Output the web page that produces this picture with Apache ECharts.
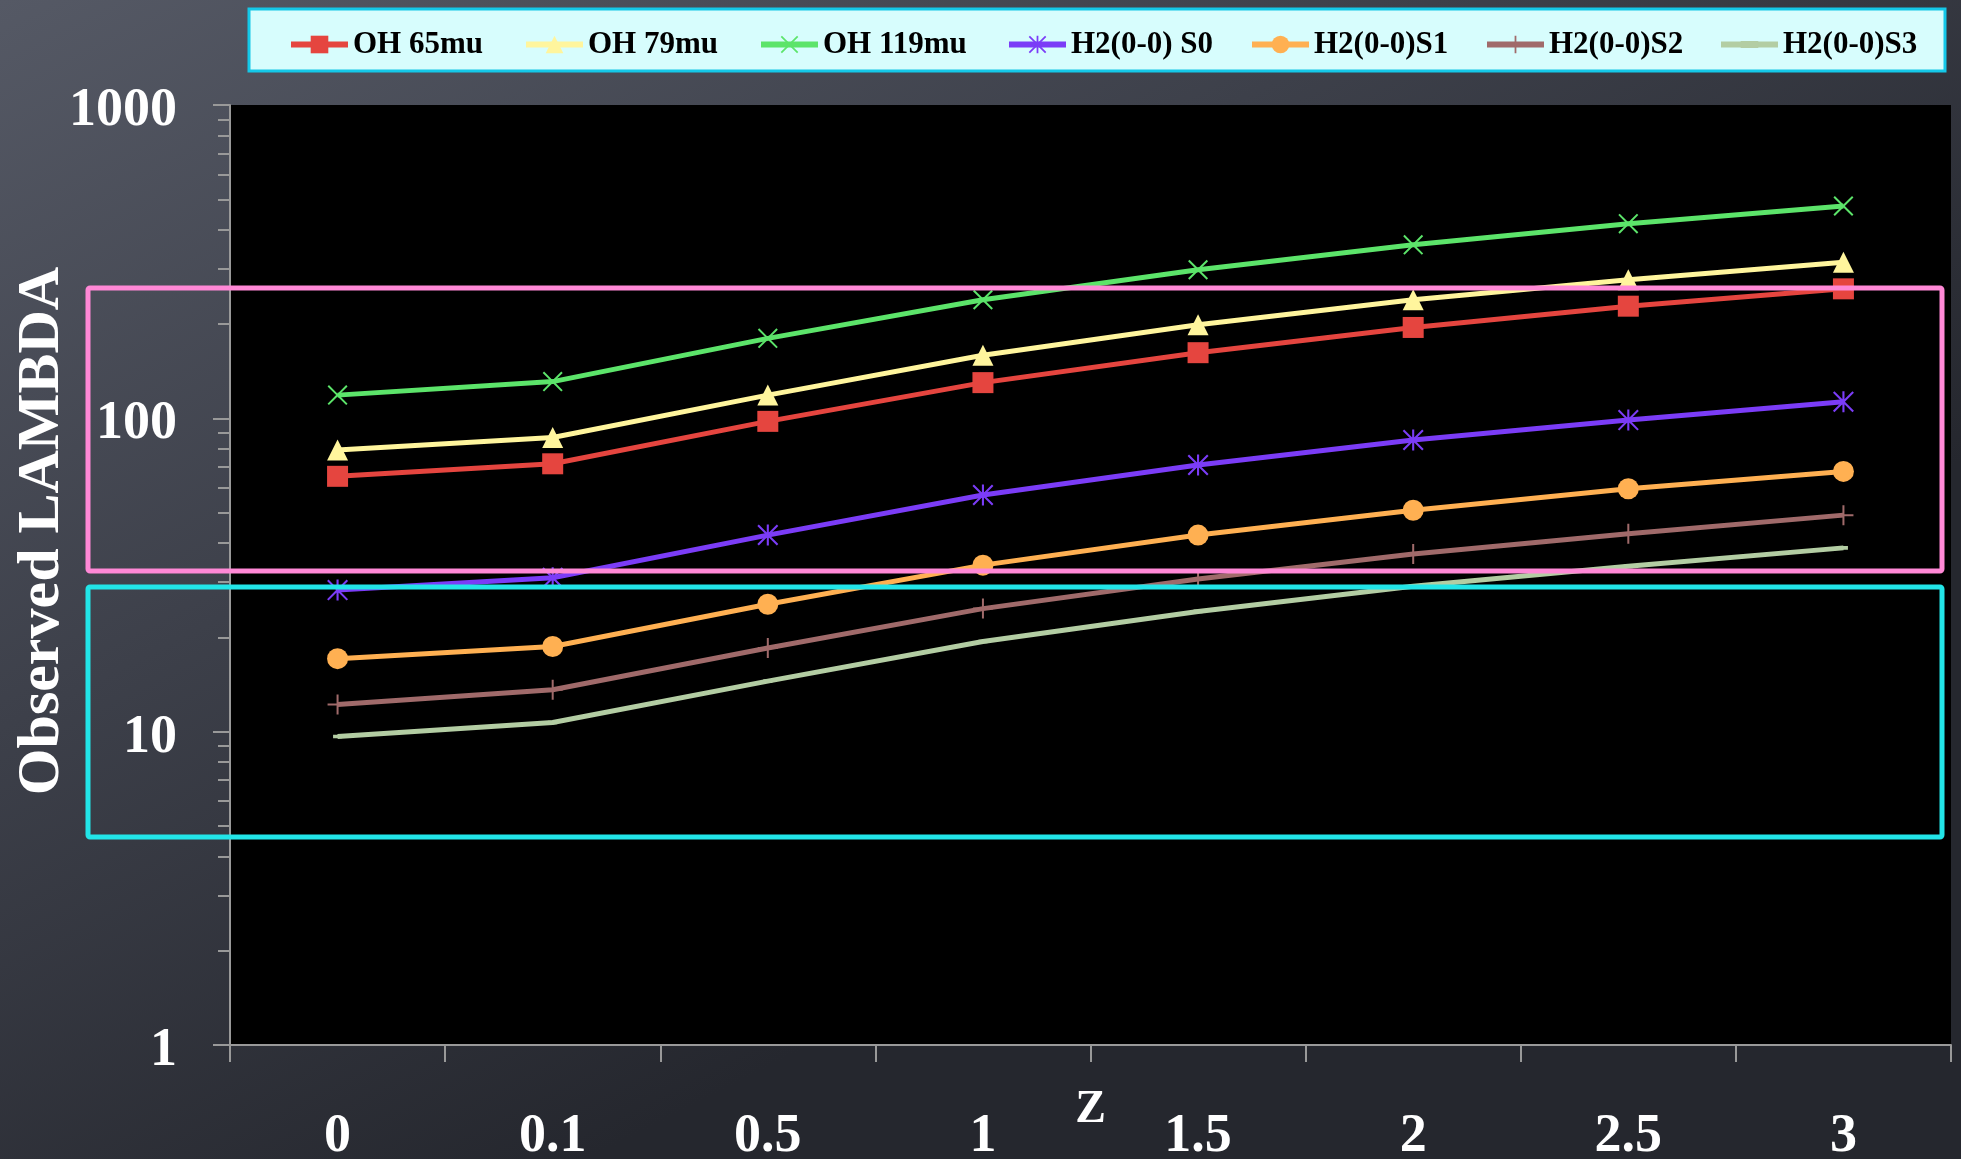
<!DOCTYPE html>
<html>
<head>
<meta charset="utf-8">
<script src="https://cdn.jsdelivr.net/npm/echarts@6/dist/echarts.min.js"></script>
<style>
html,body{margin:0;padding:0;background:#3a3d47;}
#chart{width:1961px;height:1159px;}
</style>
</head>
<body>
<div id="chart"></div>
<script>
// ---- data ----
const categories = ['0', '0.1', '0.5', '1', '1.5', '2', '2.5', '3'];
const seriesNames = ['OH 65mu', 'OH 79mu', 'OH 119mu', 'H2(0-0) S0', 'H2(0-0)S1', 'H2(0-0)S2', 'H2(0-0)S3'];
const oh65  = [65.3, 71.6, 97.8, 130, 162, 195, 228, 259];
const oh79  = [79.3, 86.9, 118.6, 159, 199, 239, 277, 315];
const oh119 = [118.6, 131, 180, 239, 298, 358, 418, 476];
const h2s0  = [28.3, 31.0, 42.4, 56.9, 71.0, 85.3, 98.7, 113];
const h2s1  = [17.1, 18.7, 25.5, 34.0, 42.4, 50.9, 59.6, 67.7];
const h2s2  = [12.2, 13.6, 18.5, 24.7, 30.7, 36.9, 42.8, 49.1];
const h2s3  = [9.65, 10.7, 14.5, 19.4, 24.2, 29.1, 33.7, 38.6];
const yMajorTicks = [1, 10, 100, 1000];
const yMinorTicks = [2,3,4,5,6,7,8,9,20,30,40,50,60,70,80,90,200,300,400,500,600,700,800,900];

// ---- styles ----
const FONT = "'Liberation Serif', 'DejaVu Serif', serif";
const colors = ['#e5453f', '#fff59d', '#5ce46a', '#7b3cf7', '#ffb052', '#a06a6a', '#b3cda3'];
const X_PATH = 'M0,0.7 L0.7,0 L5,4.3 L9.3,0 L10,0.7 L5.7,5 L10,9.3 L9.3,10 L5,5.7 L0.7,10 L0,9.3 L4.3,5 Z';
const symbols = [
  'rect',
  'triangle',
  'path://' + X_PATH,
  'path://' + X_PATH + ' M4.5,0 H5.5 V10 H4.5 Z',
  'circle',
  'path://M4.5,0 H5.5 V10 H4.5 Z M0,4.5 H10 V5.5 H0 Z',
  'path://M0,0 L0,10 Z M0,3 H10 V7 H0 Z'
];
const symbolSizes = [21, 21, 20, 21, 21, 20, 9];
const allData = [oh65, oh79, oh119, h2s0, h2s1, h2s2, h2s3];
const legendLefts = [288, 523, 758, 1006, 1249, 1484, 1718];

const series = seriesNames.map((name, i) => ({
  name: name,
  type: 'line',
  data: allData[i],
  symbol: symbols[i],
  symbolSize: symbolSizes[i],
  showAllSymbol: true,
  lineStyle: { color: colors[i], width: 5 },
  itemStyle: { color: colors[i], borderWidth: 0 },
  z: 3,
  emphasis: { disabled: true },
  animation: false
}));

const legends = seriesNames.map((name, i) => ({
  data: [name],
  left: legendLefts[i],
  top: 29,
  padding: 0,
  itemWidth: 57,
  itemHeight: 22,
  selectedMode: false,
  lineStyle: { width: 6 },
  textStyle: { fontFamily: FONT, fontWeight: 'bold', fontSize: 31, color: '#000', lineHeight: 22 },
  z: 10
}));

const chart = echarts.init(document.getElementById('chart'), null, { renderer: 'canvas' });
chart.setOption({
  animation: false,
  backgroundColor: {
    type: 'linear', x: 0, y: 0, x2: 0.3, y2: 1,
    colorStops: [
      { offset: 0, color: '#555965' },
      { offset: 0.5, color: '#3d404a' },
      { offset: 1, color: '#25272e' }
    ]
  },
  legend: legends,
  grid: {
    left: 230, right: 10, top: 105, bottom: 114,
    outerBoundsMode: 'none',
    containLabel: false,
    show: true, backgroundColor: '#000000', borderWidth: 0
  },
  xAxis: {
    type: 'category',
    data: categories,
    boundaryGap: true,
    name: 'Z',
    nameLocation: 'middle',
    nameGap: 42,
    nameMoveOverlap: false,
    nameTextStyle: { fontFamily: FONT, fontWeight: 'bold', fontSize: 46, color: '#fff' },
    axisLine: { show: true, lineStyle: { color: '#999', width: 2 } },
    axisTick: { show: true, length: 17, lineStyle: { color: '#999', width: 2 } },
    axisLabel: { margin: 65, fontFamily: FONT, fontWeight: 'bold', fontSize: 54, color: '#fff' },
    splitLine: { show: false }
  },
  yAxis: [
    {
      type: 'log',
      logBase: 10,
      min: 1,
      max: 1000,
      name: 'Observed LAMBDA',
      nameLocation: 'middle',
      nameRotate: 90,
      nameGap: 158,
      nameMoveOverlap: false,
      nameTextStyle: { fontFamily: FONT, fontWeight: 'bold', fontSize: 60, color: '#fff', padding: [0, 0, 0, 88] },
      axisLine: { show: true, lineStyle: { color: '#999', width: 2 } },
      axisTick: { show: true, length: 17, customValues: yMajorTicks, lineStyle: { color: '#999', width: 2 } },
      axisLabel: {
        margin: 53, customValues: yMajorTicks,
        formatter: v => String(v),
        verticalAlign: 'top',
        lineHeight: 12,
        fontFamily: FONT, fontWeight: 'bold', fontSize: 54, color: '#fff'
      },
      splitLine: { show: false }
    },
    {
      type: 'log',
      logBase: 10,
      min: 1,
      max: 1000,
      position: 'left',
      axisLine: { show: false },
      axisTick: { show: true, length: 12, customValues: yMinorTicks, lineStyle: { color: '#999', width: 2 } },
      axisLabel: { show: false },
      splitLine: { show: false }
    }
  ],
  graphic: [
    {
      type: 'rect', z: 1,
      shape: { x: 249, y: 9, width: 1696, height: 62 },
      style: { fill: '#d7fdfd', stroke: '#14c8e8', lineWidth: 3 }
    },
    {
      type: 'rect', z: 100,
      shape: { x: 88, y: 288, width: 1854, height: 283, r: 2 },
      style: { fill: 'none', stroke: '#ff88d6', lineWidth: 5 }
    },
    {
      type: 'rect', z: 100,
      shape: { x: 88, y: 587, width: 1854, height: 250, r: 2 },
      style: { fill: 'none', stroke: '#22e5e8', lineWidth: 5 }
    }
  ],
  series: series
});
</script>
</body>
</html>
